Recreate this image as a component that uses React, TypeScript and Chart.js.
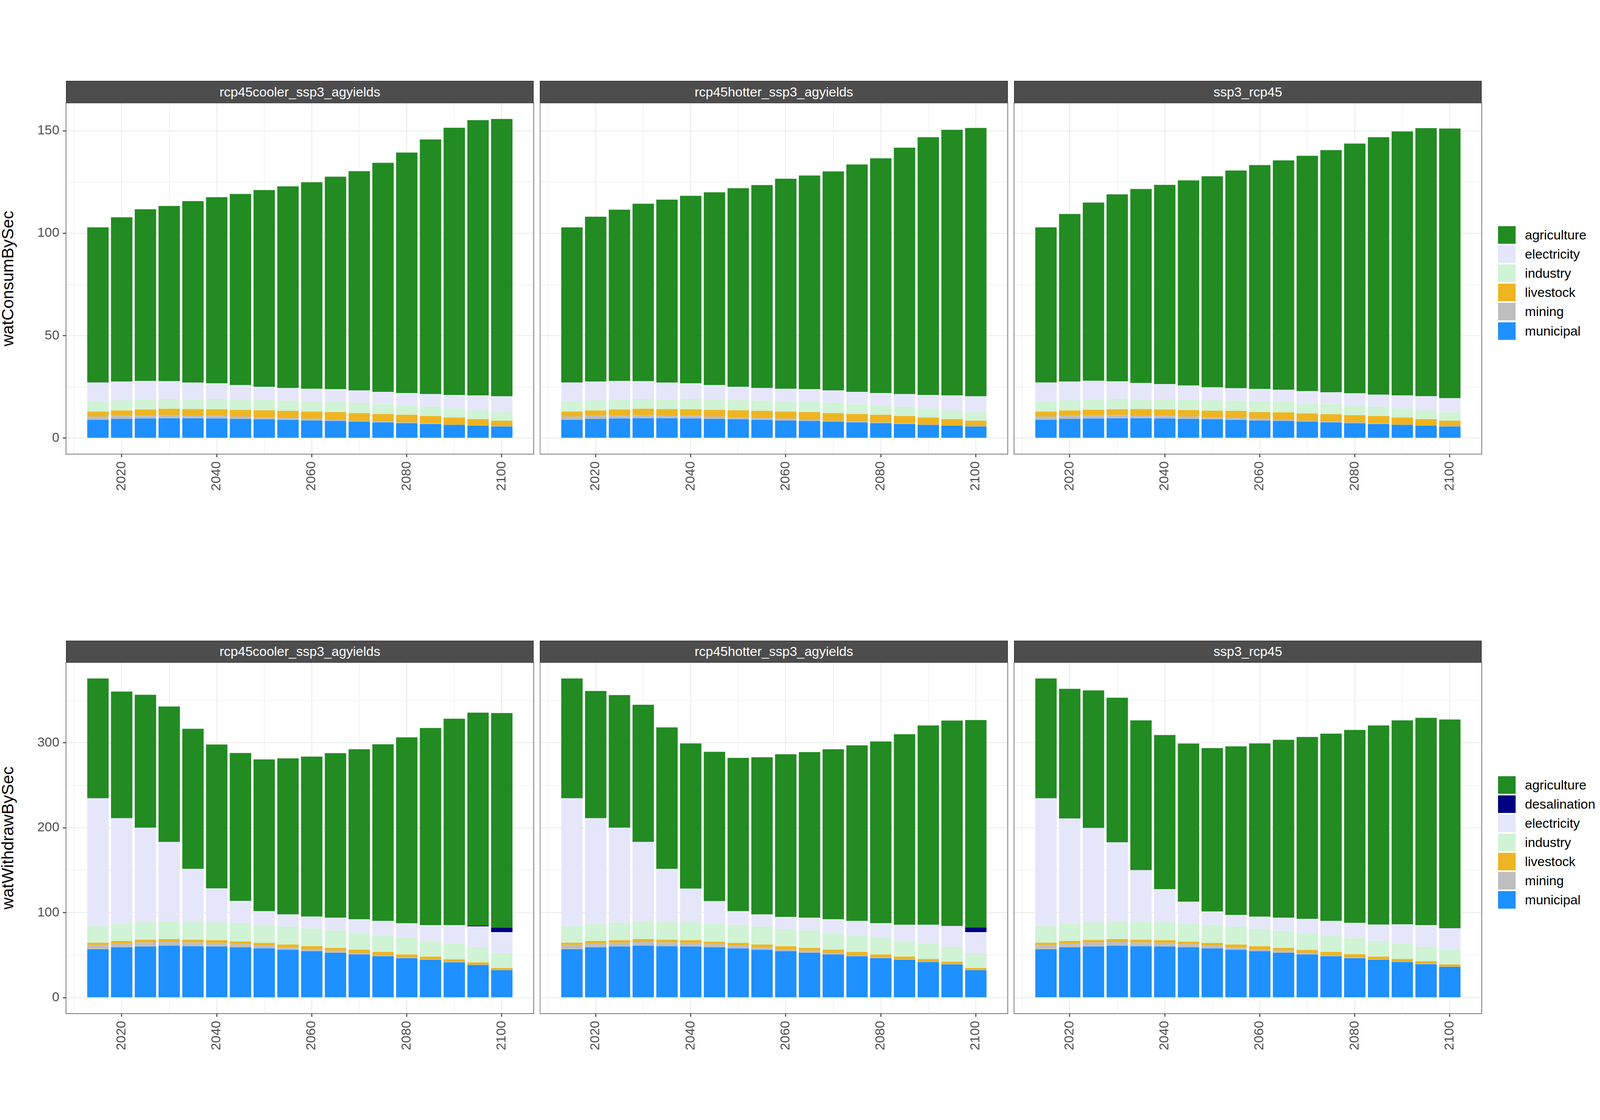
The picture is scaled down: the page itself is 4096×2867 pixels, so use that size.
import React, { useEffect, useRef } from "react";
import { Chart, registerables } from "chart.js";

Chart.register(...registerables);

// ---------------- data ----------------
const years = [2015, 2020, 2025, 2030, 2035, 2040, 2045, 2050, 2055, 2060, 2065, 2070, 2075, 2080, 2085, 2090, 2095, 2100];
const scenarios = ["rcp45cooler_ssp3_agyields", "rcp45hotter_ssp3_agyields", "ssp3_rcp45"];
const consumptionSectors = ["agriculture", "electricity", "industry", "livestock", "mining", "municipal"];
const withdrawalSectors = ["agriculture", "desalination", "electricity", "industry", "livestock", "mining", "municipal"];
const rowTitles = ["watConsumBySec", "watWithdrawBySec"];

const xTickValues = [2010, 2020, 2030, 2040, 2050, 2060, 2070, 2080, 2090, 2100];
const xTickLabels = [2020, 2040, 2060, 2080, 2100];
const consYTickValues = [0, 25, 50, 75, 100, 125, 150];
const consYTickLabels = [0, 50, 100, 150];
const withYTickValues = [0, 50, 100, 150, 200, 250, 300, 350];
const withYTickLabels = [0, 100, 200, 300];

// consumption — rcp45cooler_ssp3_agyields
const consCoolerAgriculture = [75.7, 80.2, 83.8, 85.5, 88.6, 90.8, 93.3, 96.0, 98.4, 100.8, 103.7, 107.0, 111.8, 117.4, 124.3, 130.4, 134.3, 135.4];
const consCoolerElectricity = [9.3, 9.2, 9.0, 8.6, 8.0, 7.6, 6.9, 6.4, 6.2, 6.1, 6.1, 6.0, 6.0, 6.1, 6.2, 6.6, 7.3, 7.7];
const consCoolerIndustry = [4.9, 4.9, 4.9, 4.9, 4.9, 5.1, 5.2, 5.1, 5.0, 5.0, 5.1, 5.1, 4.8, 4.5, 4.5, 4.4, 4.3, 4.2];
const consCoolerLivestock = [2.4, 2.6, 3.1, 3.1, 3.2, 3.2, 3.2, 3.5, 3.5, 3.5, 3.6, 3.7, 3.6, 3.7, 3.6, 3.5, 3.1, 2.7];
const consCoolerMining = [1.6, 1.5, 1.3, 1.5, 1.3, 1.3, 1.2, 0.9, 0.9, 0.9, 0.7, 0.4, 0.5, 0.4, 0.3, 0.1, 0.1, 0.1];
const consCoolerMunicipal = [9.0, 9.4, 9.6, 9.7, 9.7, 9.6, 9.4, 9.2, 8.9, 8.6, 8.4, 8.1, 7.7, 7.3, 6.9, 6.5, 6.1, 5.7];

// consumption — rcp45hotter_ssp3_agyields
const consHotterAgriculture = [75.7, 80.5, 83.6, 86.6, 89.3, 91.5, 94.1, 96.9, 99.0, 102.5, 104.3, 106.9, 111.0, 114.6, 120.3, 125.8, 129.6, 131.0];
const consHotterElectricity = [9.3, 9.2, 9.0, 8.6, 8.0, 7.6, 6.9, 6.4, 6.2, 6.1, 6.1, 6.0, 6.0, 6.1, 6.2, 6.6, 7.3, 7.7];
const consHotterIndustry = [4.9, 4.9, 4.9, 4.9, 4.9, 5.1, 5.2, 5.1, 5.0, 5.0, 5.1, 5.1, 4.8, 4.5, 4.5, 4.4, 4.3, 4.2];
const consHotterLivestock = [2.4, 2.6, 3.1, 3.1, 3.2, 3.2, 3.2, 3.5, 3.5, 3.5, 3.6, 3.7, 3.6, 3.7, 3.6, 3.5, 3.1, 2.7];
const consHotterMining = [1.6, 1.5, 1.3, 1.5, 1.3, 1.3, 1.2, 0.9, 0.9, 0.9, 0.7, 0.4, 0.5, 0.4, 0.3, 0.1, 0.1, 0.1];
const consHotterMunicipal = [9.0, 9.4, 9.6, 9.7, 9.7, 9.6, 9.4, 9.2, 8.9, 8.6, 8.4, 8.1, 7.7, 7.3, 6.9, 6.5, 6.1, 5.7];

// consumption — ssp3_rcp45
const consSsp3Agriculture = [75.7, 81.8, 87.0, 91.3, 94.7, 97.2, 100.1, 103.0, 106.2, 109.3, 112.0, 114.8, 118.2, 121.9, 125.6, 128.8, 130.8, 131.6];
const consSsp3Electricity = [9.3, 9.2, 9.2, 8.4, 7.8, 7.4, 6.9, 6.4, 6.1, 6.1, 5.8, 6.0, 5.8, 6.0, 6.0, 6.4, 6.9, 6.9];
const consSsp3Industry = [4.9, 4.9, 4.9, 5.2, 4.9, 5.0, 5.1, 5.0, 5.0, 5.2, 5.2, 4.9, 4.9, 4.7, 4.5, 4.4, 4.3, 4.1];
const consSsp3Livestock = [2.4, 2.6, 2.8, 2.8, 3.2, 3.1, 3.1, 3.3, 3.5, 3.2, 3.5, 3.6, 3.5, 3.5, 3.6, 3.5, 3.1, 2.7];
const consSsp3Mining = [1.6, 1.5, 1.5, 1.6, 1.3, 1.3, 1.2, 0.9, 0.9, 0.9, 0.7, 0.4, 0.5, 0.4, 0.3, 0.1, 0.1, 0.1];
const consSsp3Municipal = [9.0, 9.4, 9.6, 9.7, 9.7, 9.6, 9.4, 9.2, 8.9, 8.6, 8.4, 8.1, 7.7, 7.3, 6.9, 6.5, 6.1, 5.7];

// withdrawal — rcp45cooler_ssp3_agyields
const withCoolerAgriculture = [141.2, 149.2, 156.6, 159.4, 164.9, 169.4, 174.2, 178.7, 183.8, 188.3, 193.7, 200.1, 208.1, 219.0, 232.1, 243.0, 250.7, 252.9];
const withCoolerDesalination = [0, 0, 0, 0, 0, 0, 0, 0, 0, 0, 0, 0, 0, 0, 0, 0, 1.0, 5.1];
const withCoolerElectricity = [150.5, 124.5, 111.4, 93.8, 62.4, 40.0, 26.6, 16.3, 14.4, 14.1, 15.1, 16.3, 17.0, 16.7, 18.6, 21.8, 24.7, 25.3];
const withCoolerIndustry = [19.5, 20.2, 20.5, 20.8, 21.1, 21.1, 21.1, 21.1, 21.1, 20.8, 20.5, 19.5, 19.5, 19.9, 18.6, 18.6, 17.6, 17.0];
const withCoolerLivestock = [2.6, 2.9, 3.2, 3.2, 3.2, 3.2, 3.2, 3.2, 3.5, 3.2, 3.2, 3.8, 3.8, 3.2, 3.2, 2.9, 2.6, 2.5];
const withCoolerMining = [5.1, 4.5, 4.8, 4.5, 4.5, 4.2, 3.8, 3.2, 2.6, 2.6, 2.6, 1.9, 1.3, 1.3, 0.6, 0.6, 0.6, 0.1];
const withCoolerMunicipal = [57.0, 59.2, 60.2, 61.2, 60.5, 60.2, 59.2, 58.0, 56.4, 54.8, 52.8, 50.9, 48.7, 46.4, 44.5, 41.6, 38.4, 32.3];

// withdrawal — rcp45hotter_ssp3_agyields
const withHotterAgriculture = [141.2, 149.8, 156.2, 161.4, 166.5, 171.0, 175.8, 180.6, 185.1, 191.5, 195.0, 200.1, 206.8, 213.9, 224.4, 234.7, 241.4, 244.3];
const withHotterDesalination = [0, 0, 0, 0, 0, 0, 0, 0, 0, 0, 0, 0, 0, 0, 0, 0, 0.3, 5.4];
const withHotterElectricity = [150.5, 124.5, 111.7, 93.8, 62.4, 39.7, 26.3, 16.3, 14.4, 14.1, 15.1, 16.3, 17.0, 17.0, 18.9, 22.1, 24.7, 25.3];
const withHotterIndustry = [19.5, 20.2, 20.8, 20.8, 21.1, 21.1, 21.5, 21.1, 21.1, 20.5, 20.5, 19.5, 19.5, 19.9, 18.6, 18.3, 17.6, 17.0];
const withHotterLivestock = [2.6, 2.9, 2.9, 3.2, 3.2, 3.2, 2.9, 3.2, 3.5, 3.5, 3.2, 3.8, 3.8, 3.2, 3.2, 3.2, 2.9, 2.5];
const withHotterMining = [5.1, 4.5, 4.5, 4.5, 4.5, 4.2, 3.8, 3.2, 2.6, 2.2, 2.6, 1.9, 1.3, 1.3, 0.6, 0.3, 0.3, 0.1];
const withHotterMunicipal = [57.0, 59.2, 60.2, 61.2, 60.5, 60.2, 59.2, 58.0, 56.4, 54.8, 52.8, 50.9, 48.7, 46.4, 44.5, 41.9, 39.1, 32.3];

// withdrawal — ssp3_rcp45
const withSsp3Agriculture = [141.2, 152.7, 162.0, 170.3, 176.4, 181.5, 186.3, 192.4, 198.5, 204.0, 209.4, 214.2, 220.6, 227.3, 234.4, 240.1, 244.0, 245.6];
const withSsp3Desalination = [0, 0, 0, 0, 0, 0, 0, 0, 0, 0, 0, 0, 0, 0, 0, 0, 0, 0.3];
const withSsp3Electricity = [150.5, 124.2, 111.1, 93.2, 60.8, 39.1, 25.6, 16.0, 13.8, 14.4, 15.7, 17.0, 17.0, 17.9, 19.5, 22.7, 25.6, 25.6];
const withSsp3Industry = [19.5, 20.2, 20.8, 20.8, 21.1, 21.1, 21.5, 21.1, 21.1, 20.5, 19.9, 19.5, 19.5, 18.9, 18.3, 18.3, 17.0, 17.0];
const withSsp3Livestock = [2.6, 2.9, 2.9, 3.2, 3.2, 3.2, 2.9, 3.2, 3.5, 3.5, 3.2, 3.5, 3.8, 3.5, 3.2, 3.2, 3.2, 2.6];
const withSsp3Mining = [5.1, 4.5, 4.8, 4.5, 4.5, 4.2, 3.8, 3.2, 2.6, 2.2, 2.6, 1.9, 1.3, 1.3, 0.6, 0.3, 0.3, 0.3];
const withSsp3Municipal = [57.0, 59.2, 60.2, 61.2, 60.5, 60.2, 59.2, 58.0, 56.4, 54.8, 52.8, 50.9, 48.7, 46.4, 44.5, 41.9, 39.4, 36.2];

const sectorColors: Record<string, string> = {
  agriculture: "#228B22",
  desalination: "#000080",
  electricity: "#E6E6FA",
  industry: "#CFF3D4",
  livestock: "#EEB422",
  mining: "#BEBEBE",
  municipal: "#1E90FF",
};

const consumptionFacets: Record<string, number[]>[] = [
  { agriculture: consCoolerAgriculture, electricity: consCoolerElectricity, industry: consCoolerIndustry, livestock: consCoolerLivestock, mining: consCoolerMining, municipal: consCoolerMunicipal },
  { agriculture: consHotterAgriculture, electricity: consHotterElectricity, industry: consHotterIndustry, livestock: consHotterLivestock, mining: consHotterMining, municipal: consHotterMunicipal },
  { agriculture: consSsp3Agriculture, electricity: consSsp3Electricity, industry: consSsp3Industry, livestock: consSsp3Livestock, mining: consSsp3Mining, municipal: consSsp3Municipal },
];
const withdrawalFacets: Record<string, number[]>[] = [
  { agriculture: withCoolerAgriculture, desalination: withCoolerDesalination, electricity: withCoolerElectricity, industry: withCoolerIndustry, livestock: withCoolerLivestock, mining: withCoolerMining, municipal: withCoolerMunicipal },
  { agriculture: withHotterAgriculture, desalination: withHotterDesalination, electricity: withHotterElectricity, industry: withHotterIndustry, livestock: withHotterLivestock, mining: withHotterMining, municipal: withHotterMunicipal },
  { agriculture: withSsp3Agriculture, desalination: withSsp3Desalination, electricity: withSsp3Electricity, industry: withSsp3Industry, livestock: withSsp3Livestock, mining: withSsp3Mining, municipal: withSsp3Municipal },
];

// ---------------- layout (reference px * S) ----------------
const S = 0.682;
const FONT = "'Liberation Sans', Arial, Helvetica, sans-serif";
const PANEL_LEFT = [247.7, 2027.0, 3806.3].map((v) => v * S);
const PANEL_W = 1755.8 * S;
const PANEL_TOP = [386.5, 2486.5].map((v) => v * S);
const PANEL_H = 1318 * S;
const STRIP_H = 82.5 * S;
const XAXIS_H = 110;
const PAD = 3;
const BAR_RATIO = 0.9;
const TICK_FONT = 49.8 * S;
const TITLE_FONT = 62.3 * S;
const LEGEND_FONT = 49.5 * S;
const TICK_LEN = 12 * S;
const GRID_MAJOR = 2.3;
const GRID_MINOR = 1.2;
const LEGEND_KEY_LEFT = 5623 * S;
const LEGEND_TEXT_LEFT = 5724 * S;
const LEGEND_KEY = 66 * S;
const LEGEND_STEP = 72 * S;
const LEGEND_TOP = [849 * S, 2913 * S];

Chart.defaults.font.family = FONT;

const borderPlugin = {
  id: "panelBorder",
  afterDraw(chart: any) {
    const { ctx, chartArea } = chart;
    ctx.save();
    ctx.strokeStyle = "#333333";
    ctx.lineWidth = 1.3;
    ctx.strokeRect(chartArea.left, chartArea.top, chartArea.right - chartArea.left, chartArea.bottom - chartArea.top);
    ctx.restore();
  },
};

type PanelProps = {
  row: number;
  col: number;
  series: Record<string, number[]>;
  sectors: string[];
  yMin: number;
  yMax: number;
  yTicks: number[];
  yLabels: number[];
};

function Panel({ row, col, series, sectors, yMin, yMax, yTicks, yLabels }: PanelProps) {
  const ref = useRef<HTMLCanvasElement>(null);
  const pl = PANEL_LEFT[col];
  const pt = PANEL_TOP[row];
  const canvasLeft = col === 0 ? 0 : Math.floor(pl);
  const canvasTop = Math.floor(pt) - PAD;
  const padTop = pt - canvasTop;
  const yAxisW = pl - canvasLeft;
  const chartRight = pl + PANEL_W - canvasLeft;
  const canvasW = Math.ceil(chartRight) + PAD;
  const padRight = canvasW - chartRight;
  const canvasH = Math.ceil(padTop + PANEL_H + XAXIS_H);
  const xAxisH = canvasH - padTop - PANEL_H;

  useEffect(() => {
    if (!ref.current) return;
    const stackOrder = [...sectors].reverse();
    const step = years[1] - years[0];
    const half = (step * BAR_RATIO) / 2;
    const lo = years[0] - half;
    const hi = years[years.length - 1] + half;
    const ext = (hi - lo) * 0.05;
    const showY = col === 0;

    const chart = new Chart(ref.current, {
      type: "bar",
      data: {
        datasets: stackOrder.map((s) => ({
          label: s,
          data: years.map((yr, i) => ({ x: yr, y: series[s][i] })),
          backgroundColor: sectorColors[s],
          borderWidth: 0,
          barPercentage: BAR_RATIO,
          categoryPercentage: 1,
        })),
      },
      options: {
        responsive: false,
        animation: false,
        devicePixelRatio: 1,
        events: [],
        layout: { padding: { top: padTop, right: padRight, left: 0, bottom: 0 } },
        plugins: { legend: { display: false }, tooltip: { enabled: false }, title: { display: false } },
        scales: {
          x: {
            type: "linear",
            stacked: true,
            min: lo - ext,
            max: hi + ext,
            bounds: "data",
            offset: false,
            afterBuildTicks: (sc: any) => {
              sc.ticks = xTickValues.map((v) => ({ value: v }));
            },
            afterFit: (sc: any) => {
              sc.height = xAxisH;
              sc.paddingLeft = 0;
              sc.paddingRight = 0;
              sc.paddingTop = 0;
              sc.paddingBottom = 0;
            },
            border: { display: false },
            grid: {
              offset: false,
              color: "#EBEBEB",
              lineWidth: (c: any) => (xTickLabels.includes(c.tick?.value) ? GRID_MAJOR : GRID_MINOR),
              drawTicks: true,
              tickLength: TICK_LEN,
              tickWidth: GRID_MAJOR,
              tickColor: (c: any) => (xTickLabels.includes(c.tick?.value) ? "#333333" : "rgba(0,0,0,0)"),
            },
            ticks: {
              autoSkip: false,
              maxRotation: 90,
              minRotation: 90,
              padding: 15 * S,
              color: "#4D4D4D",
              font: { size: TICK_FONT, family: FONT },
              callback: (v: any) => (xTickLabels.includes(Number(v)) ? String(v) : ""),
            },
          } as any,
          y: {
            type: "linear",
            stacked: true,
            min: yMin,
            max: yMax,
            bounds: "data",
            position: "left",
            afterBuildTicks: (sc: any) => {
              sc.ticks = yTicks.map((v) => ({ value: v }));
            },
            afterFit: (sc: any) => {
              sc.width = yAxisW;
              sc.paddingLeft = 0;
              sc.paddingRight = 0;
              sc.paddingTop = 0;
              sc.paddingBottom = 0;
            },
            border: { display: false },
            grid: {
              color: "#EBEBEB",
              lineWidth: (c: any) => (yLabels.includes(c.tick?.value) ? GRID_MAJOR : GRID_MINOR),
              drawTicks: showY,
              tickLength: TICK_LEN,
              tickWidth: GRID_MAJOR,
              tickColor: (c: any) => (yLabels.includes(c.tick?.value) ? "#333333" : "rgba(0,0,0,0)"),
            },
            ticks: {
              display: showY,
              autoSkip: false,
              padding: 12.7 * S,
              color: "#4D4D4D",
              font: { size: TICK_FONT, family: FONT },
              callback: (v: any) => (yLabels.includes(Number(v)) ? String(v) : ""),
            },
          } as any,
        },
      },
      plugins: [borderPlugin],
    } as any);
    return () => chart.destroy();
  }, []);

  return (
    <canvas
      ref={ref}
      width={canvasW}
      height={canvasH}
      style={{ position: "absolute", left: canvasLeft, top: canvasTop, width: canvasW, height: canvasH }}
    />
  );
}

function rowMax(facets: Record<string, number[]>[], sectors: string[]): number {
  let m = 0;
  facets.forEach((f) => {
    years.forEach((_, i) => {
      const total = sectors.reduce((acc, s) => acc + f[s][i], 0);
      if (total > m) m = total;
    });
  });
  return m;
}

export default function App() {
  useEffect(() => {
    document.body.style.margin = "0";
  }, []);

  const rows = [
    { facets: consumptionFacets, sectors: consumptionSectors, yTicks: consYTickValues, yLabels: consYTickLabels },
    { facets: withdrawalFacets, sectors: withdrawalSectors, yTicks: withYTickValues, yLabels: withYTickLabels },
  ];

  return (
    <div
      style={{
        position: "absolute",
        left: 0,
        top: 0,
        width: 4096,
        height: 2867,
        background: "#FFFFFF",
        overflow: "hidden",
        fontFamily: FONT,
      }}
    >
      {rows.map((r, ri) => {
        const m = rowMax(r.facets, r.sectors);
        const yMin = -0.05 * m;
        const yMax = 1.05 * m;
        return (
          <React.Fragment key={"row" + ri}>
            <div
              style={{
                position: "absolute",
                left: 19.5,
                top: PANEL_TOP[ri] + PANEL_H / 2,
                transform: "translate(-50%, -50%) rotate(-90deg)",
                fontSize: TITLE_FONT,
                lineHeight: 1,
                whiteSpace: "nowrap",
                color: "#000000",
              }}
            >
              {rowTitles[ri]}
            </div>
            {scenarios.map((sc, ci) => (
              <React.Fragment key={"p" + ri + "-" + ci}>
                <div
                  style={{
                    position: "absolute",
                    left: PANEL_LEFT[ci],
                    top: PANEL_TOP[ri] - STRIP_H,
                    width: PANEL_W,
                    height: STRIP_H,
                    boxSizing: "border-box",
                    background: "#4D4D4D",
                    border: "1.2px solid #111111",
                    color: "#FFFFFF",
                    fontSize: TICK_FONT,
                    display: "flex",
                    alignItems: "center",
                    justifyContent: "center",
                    whiteSpace: "nowrap",
                  }}
                >
                  {sc}
                </div>
                <Panel
                  row={ri}
                  col={ci}
                  series={r.facets[ci]}
                  sectors={r.sectors}
                  yMin={yMin}
                  yMax={yMax}
                  yTicks={r.yTicks}
                  yLabels={r.yLabels}
                />
              </React.Fragment>
            ))}
            {r.sectors.map((s, si) => {
              const top = LEGEND_TOP[ri] + si * LEGEND_STEP;
              return (
                <React.Fragment key={"lg" + ri + s}>
                  <div
                    style={{
                      position: "absolute",
                      left: LEGEND_KEY_LEFT,
                      top,
                      width: LEGEND_KEY,
                      height: LEGEND_KEY,
                      background: sectorColors[s],
                    }}
                  />
                  <div
                    style={{
                      position: "absolute",
                      left: LEGEND_TEXT_LEFT,
                      top,
                      height: LEGEND_KEY,
                      lineHeight: LEGEND_KEY + "px",
                      fontSize: LEGEND_FONT,
                      color: "#000000",
                      whiteSpace: "nowrap",
                    }}
                  >
                    {s}
                  </div>
                </React.Fragment>
              );
            })}
          </React.Fragment>
        );
      })}
    </div>
  );
}
